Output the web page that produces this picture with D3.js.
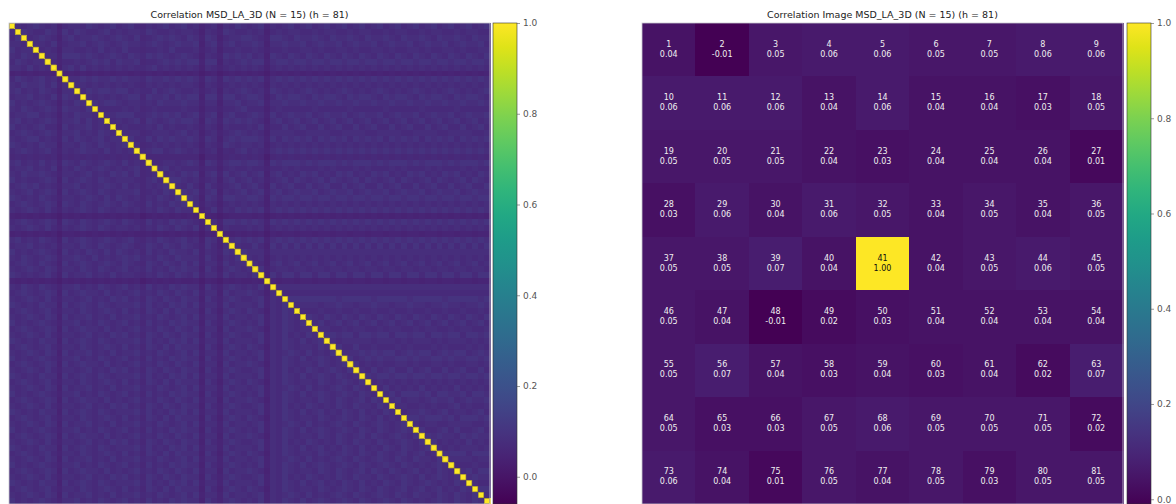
<!DOCTYPE html>
<html>
<head>
<meta charset="utf-8">
<script src="https://cdn.jsdelivr.net/npm/d3@7"></script>
<style>
  body { margin: 0; background: #fff; }
  text { font-family: "DejaVu Sans", sans-serif; }
</style>
</head>
<body>
<script>
// correlation of all 81 pixels, lower triangle per row (row i has i digits)
// each digit is a colour level, see levels below; the diagonal is 1
var lowerRows = [
  "6",
  "57",
  "665",
  "7566",
  "65765",
  "576566",
  "6657565",
  "23232332",
  "576567562",
  "6576675736",
  "6756576526 6",
  "5667565737 65",
  "7565676526 576",
  "6576567637 6657",
  "5667756526 57665",
  "6756567636 675756",
  "7565675527 5667565",
  "5676567636 67565765",
  "6567756537 576567566",
  "7656576626 6576576567",
  "5676567536 5676657565 6",
  "4545454525 4545454545 45",
  "6756575637 6576567657 564",
  "5667565726 5765676565 6745",
  "6576676536 6567565767 57456",
  "7565567627 5676576566 654675",
  "5676756536 6756567657 5646567",
  "6567567627 5676576566 67456576",
  "7656576536 6567657576 564657657",
  "5676567627 6576567657 6547565767",
  "6567657536 5676576566 5646576576 6",
  "3232323213 2323232323 2312323232 32",
  "5676567627 6576567657 6547565767 653",
  "6567657536 5676576566 5646576576 5726",
  "2323232313 3232323232 3223232323 23132",
  "6756576527 5676567656 7546576567 562762",
  "5667565636 6576576567 6457657657 6537526",
  "7565676527 5657657576 5647565766 57365376",
  "6576567636 6765756567 6756576576 663752657",
  "5676576527 5676567657 6547657657 5736637566",
  "6567657636 6576576567 5657565767 6627526765 6",
  "7656567527 5667565756 6546576576 5736637566 57",
  "3232323213 2323232323 2312323232 2313213232 232",
  "6576576536 6756576567 5647565767 6627536765 6573",
  "5676567627 5676657565 6756576576 5736627566 76526",
  "6567657536 6567565767 5647657657 6627536765 567365",
  "7656576627 5676576566 6757565767 5736637566 6573657",
  "5676567536 6576567657 5647657576 6627526765 76526576",
  "6567657627 5667565756 6756576567 5736637566 567365765",
  "7565676536 6756576567 5647565767 6627536765 6573657657",
  "5676567627 5676657565 6756576576 5736627566 7652657656 6",
  "6567657536 6567565767 5647657657 6627536765 5673657565 76",
  "7656576627 5676576566 6757565767 5736637566 6573657657 567",
  "5676567536 6576567657 5647657576 6627526765 7652657656 6576",
  "6567657627 5667565756 6756576567 5736637566 5673656765 75657",
  "7565676536 6756576567 5647565767 6627536765 6573657657 567656",
  "5676567627 5676657565 6756576576 5736627566 7652657656 6576567",
  "6567657536 6567565767 5647657657 6627536765 5673657565 76567657",
  "7656576627 5676576566 6757565767 5736637566 6573657657 567657656",
  "5676567536 6576567657 5647657576 6627526765 7652657656 6576567657",
  "6567657627 5667565756 6756576567 5736637566 5673656765 7565676576 5",
  "7565676536 6756576567 5647565767 6627536765 6573657657 5676567657 65",
  "5676567627 5676657565 6756576576 5736627566 7652657656 6576576567 576",
  "6567657536 6567565767 5647657657 6627536765 5673657565 7656576576 6576",
  "7656576627 5676576566 6757565767 5736637566 6573657657 5675657657 56576",
  "5676567536 6576567657 5647657576 6627526765 7652657656 6576567657 657565",
  "6567657627 5667565756 6756576567 5736637566 5673656765 7565676576 5676567",
  "7565676536 6756576567 5647565767 6627536765 6573657657 5676567657 65765676",
  "5676567627 5676657565 6756576576 5736627566 7652657656 6576576567 576567657",
  "6567657536 6567565767 5647657657 6627536765 5673657565 7656576576 6576567657",
  "7656576627 5676576566 6757565767 5736637566 6573657657 5675657657 5657657656 7",
  "5676567536 6576567657 5647657576 6627526765 7652657656 6576567657 6576567567 56",
  "6567657627 5667565756 6756576567 5736637566 5673656765 7565676576 5676576576 657",
  "7565676536 6756576567 5647565767 6627536765 6573657657 5676567657 6567657656 5676",
  "5676567627 5676657565 6756576576 5736627566 7652657656 6576576567 5765765675 65765",
  "6567657536 6567565767 5647657657 6627536765 5673657565 7656576576 6576567657 567656",
  "7656576627 5676576566 6757565767 5736637566 6573657657 5675657657 5657657656 7656576",
  "5676567536 6576567657 5647657576 6627526765 7652657656 6576567657 6576567567 56756576",
  "6567657627 5667565756 6756576567 5736637566 5673656765 7565676576 5676576576 657657657",
  "7565676536 6756576567 5647565767 6627536765 6573657657 5676567657 6567657656 5676576576"
]
// value of each digit level, estimated from the colours
var levels = [0.01, 0.03, 0.04, 0.05, 0.06, 0.065, 0.08, 0.095, 0.10, 0.11]

// correlation image, 9 x 9 pixels, read row by row
var imageCorr = [
  0.04, -0.01, 0.05, 0.06, 0.06, 0.05, 0.05, 0.06, 0.06,
  0.06, 0.06, 0.06, 0.04, 0.06, 0.04, 0.04, 0.03, 0.05,
  0.05, 0.05, 0.05, 0.04, 0.03, 0.04, 0.04, 0.04, 0.01,
  0.03, 0.06, 0.04, 0.06, 0.05, 0.04, 0.05, 0.04, 0.05,
  0.05, 0.05, 0.07, 0.04, 1.00, 0.04, 0.05, 0.06, 0.05,
  0.05, 0.04, -0.01, 0.02, 0.03, 0.04, 0.04, 0.04, 0.04,
  0.05, 0.07, 0.04, 0.03, 0.04, 0.03, 0.04, 0.02, 0.07,
  0.05, 0.03, 0.03, 0.05, 0.06, 0.05, 0.05, 0.05, 0.02,
  0.06, 0.04, 0.01, 0.05, 0.04, 0.05, 0.03, 0.05, 0.05
]

var leftTitle = "Correlation MSD_LA_3D (N = 15) (h = 81)"
var rightTitle = "Correlation Image MSD_LA_3D (N = 15) (h = 81)"
var leftRange = [-0.06, 1.0]
var cbarTicks = [0.0, 0.2, 0.4, 0.6, 0.8, 1.0]

const buildMatrix = function(rows){
  var n = rows.length + 1
  var m = []
  for (let i = 0; i < n; i++){
    m.push(new Array(n).fill(1))
  }
  rows.forEach(function(s, k){
    var i = k + 1
    var digits = s.replace(/ /g, "")
    if (digits.length != i) console.warn("row", i, "has", digits.length)
    for (let j = 0; j < i; j++){
      var v = levels[+digits[j]]
      m[i][j] = v
      m[j][i] = v
    }
  })
  return m
}

var width = 1176
var height = 504
var svg = d3.select("body").append("svg")
            .attr("width", width)
            .attr("height", height)

var defs = svg.append("defs")

const drawColourBar = function(x0, y0, w, h, domain, id){
  var grad = defs.append("linearGradient")
                 .attr("id", id)
                 .attr("x1", 0).attr("y1", 1)
                 .attr("x2", 0).attr("y2", 0)
  d3.range(0, 1.0001, 0.05).forEach(function(t){
    grad.append("stop")
        .attr("offset", t)
        .attr("stop-color", d3.interpolateViridis(t))
  })
  svg.append("rect")
     .attr("x", x0).attr("y", y0)
     .attr("width", w).attr("height", h)
     .attr("fill", "url(#" + id + ")")
     .attr("stroke", "#333")
     .attr("stroke-width", 0.6)

  var yScale = d3.scaleLinear().domain(domain).range([y0 + h, y0])
  var axis = d3.axisRight(yScale)
               .tickValues(cbarTicks)
               .tickFormat(d3.format(".1f"))
               .tickSize(3)
               .tickPadding(3)
  var g = svg.append("g")
             .attr("transform", "translate(" + (x0 + w) + ",0)")
             .call(axis)
  g.select(".domain").remove()
  g.selectAll("line").attr("stroke", "#555").attr("stroke-width", 0.6)
  g.selectAll("text")
   .attr("fill", "#555")
   .style("font-size", "9px")
   .style("font-family", "DejaVu Sans, sans-serif")
}

// left panel: full 81 x 81 matrix
var matrix = buildMatrix(lowerRows)
var n = matrix.length
var left = {x: 9, y: 23, size: 481}

var xL = d3.scaleBand().domain(d3.range(n)).range([left.x, left.x + left.size])
var yL = d3.scaleBand().domain(d3.range(n)).range([left.y, left.y + left.size])
var colourL = d3.scaleSequential(d3.interpolateViridis).domain(leftRange)

var cells = []
matrix.forEach(function(row, i){
  row.forEach(function(v, j){ cells.push({i: i, j: j, v: v}) })
})

svg.append("g")
   .attr("shape-rendering", "crispEdges")
   .selectAll("rect")
   .data(cells)
   .enter()
   .append("rect")
   .attr("x", function(d){ return xL(d.j) })
   .attr("y", function(d){ return yL(d.i) })
   .attr("width", xL.bandwidth() + 0.5)
   .attr("height", yL.bandwidth() + 0.5)
   .attr("fill", function(d){ return colourL(d.v) })

// diagonal squares look slightly outlined in the picture
svg.append("g")
   .selectAll("rect")
   .data(cells.filter(function(d){ return d.i == d.j }))
   .enter()
   .append("rect")
   .attr("x", function(d){ return xL(d.j) + 0.3 })
   .attr("y", function(d){ return yL(d.i) + 0.3 })
   .attr("width", xL.bandwidth() - 0.6)
   .attr("height", yL.bandwidth() - 0.6)
   .attr("fill", colourL(1))
   .attr("stroke", "#8c7d3c")
   .attr("stroke-width", 0.6)

svg.append("rect")
   .attr("x", left.x).attr("y", left.y)
   .attr("width", left.size).attr("height", left.size)
   .attr("fill", "none")
   .attr("stroke", "#c8c8d0")
   .attr("stroke-width", 0.8)

svg.append("text")
   .attr("x", left.x + left.size / 2)
   .attr("y", 18)
   .attr("text-anchor", "middle")
   .attr("fill", "#222")
   .style("font-size", "9.5px")
   .text(leftTitle)

drawColourBar(493, 23, 24, 481, leftRange, "cbarLeft")

// right panel: 9 x 9 correlation image
var side = 9
var right = {x: 642, y: 23, size: 481}
var xR = d3.scaleBand().domain(d3.range(side)).range([right.x, right.x + right.size])
var yR = d3.scaleBand().domain(d3.range(side)).range([right.y, right.y + right.size])
var rightRange = d3.extent(imageCorr)
var colourR = d3.scaleSequential(d3.interpolateViridis).domain(rightRange)

var pix = imageCorr.map(function(v, k){
  return {k: k, row: Math.floor(k / side), col: k % side, v: v}
})

svg.append("g")
   .attr("shape-rendering", "crispEdges")
   .selectAll("rect")
   .data(pix)
   .enter()
   .append("rect")
   .attr("x", function(d){ return xR(d.col) })
   .attr("y", function(d){ return yR(d.row) })
   .attr("width", xR.bandwidth() + 0.5)
   .attr("height", yR.bandwidth() + 0.5)
   .attr("fill", function(d){ return colourR(d.v) })

var labels = svg.append("g")
                .selectAll("g")
                .data(pix)
                .enter()
                .append("g")
                .attr("transform", function(d){
                  return "translate(" + (xR(d.col) + xR.bandwidth() / 2) + ","
                                      + (yR(d.row) + yR.bandwidth() / 2) + ")"
                })
                .attr("text-anchor", "middle")
                .style("font-size", "8px")
                .attr("fill", function(d){ return d.v > 0.5 ? "#111" : "#f0f0f0" })

labels.append("text")
      .attr("y", -3)
      .text(function(d){ return d.k + 1 })
labels.append("text")
      .attr("y", 7)
      .text(function(d){ return d.v.toFixed(2) })

svg.append("rect")
   .attr("x", right.x).attr("y", right.y)
   .attr("width", right.size).attr("height", right.size)
   .attr("fill", "none")
   .attr("stroke", "#c8c8d0")
   .attr("stroke-width", 0.8)

svg.append("text")
   .attr("x", right.x + right.size / 2)
   .attr("y", 18)
   .attr("text-anchor", "middle")
   .attr("fill", "#222")
   .style("font-size", "9.5px")
   .text(rightTitle)

drawColourBar(1127, 23, 24, 481, rightRange, "cbarRight")
</script>
</body>
</html>
